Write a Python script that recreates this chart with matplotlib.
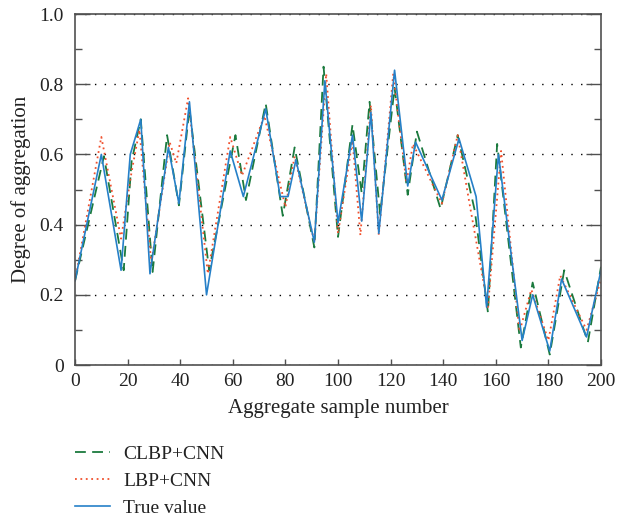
import matplotlib.pyplot as plt
from matplotlib.ticker import MultipleLocator

# sample positions and values
x_clbp = [0, 11, 18.5, 21.5, 25, 29.5, 35, 39.5, 43.5, 51, 61, 65, 72.5, 79, 83.5, 91,
          94.5, 100, 105.5, 109, 112, 116, 121.5, 126.5, 130, 139, 145.5, 152, 157,
          160.5, 169.5, 174, 180.5, 186, 195, 200]
y_clbp = [0.24, 0.595, 0.27, 0.58, 0.70, 0.265, 0.655, 0.455, 0.73, 0.27, 0.655, 0.47,
          0.745, 0.425, 0.62, 0.335, 0.85, 0.365, 0.685, 0.49, 0.75, 0.43, 0.79, 0.485,
          0.665, 0.445, 0.655, 0.44, 0.15, 0.63, 0.05, 0.235, 0.03, 0.27, 0.065, 0.28]

x_lbp = [0, 10, 17.5, 21.5, 24.5, 29, 36, 38.5, 43, 50.5, 59, 63.5, 72, 80, 83.5, 91,
         95.5, 100, 105.5, 108.5, 112.5, 115.5, 121, 126, 128.5, 139.5, 145.5, 150, 157,
         162, 169, 173.5, 180, 184.5, 194.5, 200]
y_lbp = [0.24, 0.65, 0.36, 0.55, 0.67, 0.29, 0.635, 0.575, 0.76, 0.26, 0.65, 0.54, 0.71,
         0.45, 0.595, 0.35, 0.83, 0.375, 0.64, 0.37, 0.74, 0.37, 0.83, 0.52, 0.63, 0.46,
         0.655, 0.46, 0.165, 0.61, 0.095, 0.215, 0.07, 0.255, 0.10, 0.245]

x_true = [0, 10, 17.5, 21, 25, 28.5, 35.5, 39.5, 43.5, 50, 59, 64, 72.5, 78, 81, 84, 91,
          95, 100, 105.5, 109, 112.5, 115.5, 121.5, 126.5, 129.5, 139.5, 146, 152.5,
          156.5, 161, 170, 174, 180.5, 185, 194.5, 200]
y_true = [0.24, 0.60, 0.27, 0.60, 0.70, 0.26, 0.62, 0.46, 0.75, 0.20, 0.61, 0.48, 0.73,
          0.48, 0.48, 0.585, 0.35, 0.81, 0.405, 0.655, 0.41, 0.72, 0.375, 0.84, 0.51,
          0.635, 0.47, 0.645, 0.48, 0.165, 0.60, 0.07, 0.20, 0.04, 0.245, 0.08, 0.27]

x_ticks = [0, 20, 40, 60, 80, 100, 120, 140, 160, 180, 200]
y_ticks = [0, 0.2, 0.4, 0.6, 0.8, 1.0]
y_ticklabels = ["0", "0.2", "0.4", "0.6", "0.8", "1.0"]

plt.rcParams["font.family"] = ["Liberation Serif", "DejaVu Serif"]
plt.rcParams["font.size"] = 14

fig = plt.figure(figsize=(6.17, 5.2), dpi=100)
ax = fig.add_axes([0.1216, 0.298, 0.8525, 0.675])

# green dashed, red dotted, solid blue on top
ax.plot(x_clbp, y_clbp, color="#1b7a3e", lw=1.3, dashes=(6, 3.5), label="CLBP+CNN")
ax.plot(x_lbp, y_lbp, color="#f0502d", lw=1.3, dashes=(1, 2), label="LBP+CNN")
ax.plot(x_true, y_true, color="#2680c8", lw=1.2, label="True value")

ax.set_xlim(0, 200)
ax.set_ylim(0, 1.0)
ax.set_xticks(x_ticks)
ax.set_yticks(y_ticks)
ax.set_yticklabels(y_ticklabels)
ax.yaxis.set_minor_locator(MultipleLocator(0.1))

ax.tick_params(axis="x", direction="in", length=4, width=1, colors="#505050",
               labelcolor="#222222", pad=6)
ax.tick_params(axis="y", which="major", direction="in", length=11, width=1,
               colors="#505050", labelcolor="#222222", left=True, right=True, pad=8)
ax.tick_params(axis="y", which="minor", direction="in", length=5, width=1,
               colors="#505050", left=True, right=True)

for s in ax.spines.values():
    s.set_color("#505050")
    s.set_linewidth(1.2)

# dotted horizontal grid
ax.yaxis.grid(True, color="black", linestyle=(0, (1, 6)), linewidth=1)
ax.set_axisbelow(True)

ax.set_xlabel("Aggregate sample number", fontsize=15, color="#222222", labelpad=6)
ax.set_ylabel("Degree of aggregation", fontsize=15, color="#222222", labelpad=6)

fig.legend(loc="upper left", bbox_to_anchor=(0.105, 0.163), frameon=False,
           fontsize=14, handlelength=1.8, handletextpad=0.7, labelspacing=0.5,
           borderpad=0, labelcolor="#222222", bbox_transform=fig.transFigure)

fig.savefig("out.png", dpi=100)
